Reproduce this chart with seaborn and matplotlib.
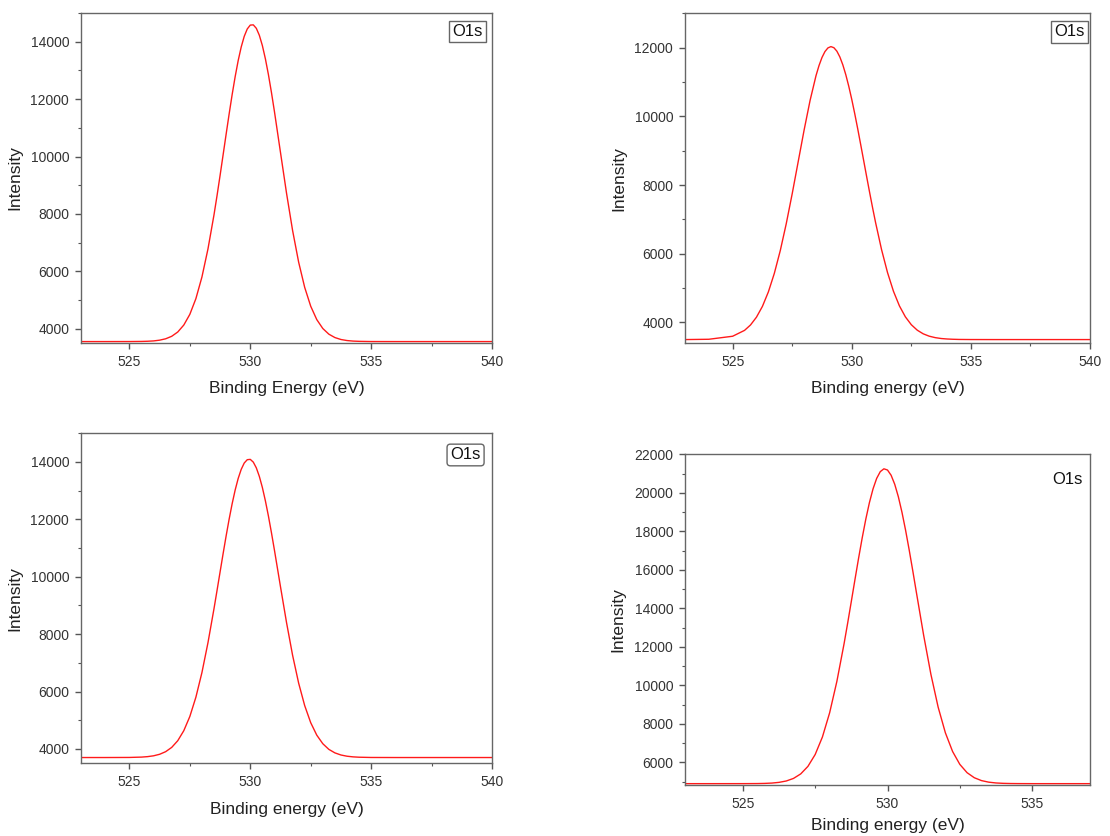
import numpy as np
import pandas as pd
import matplotlib
matplotlib.use("Agg")
import matplotlib.pyplot as plt
import seaborn as sns
from matplotlib.ticker import MultipleLocator

# Năng lượng liên kết (eV) - lưới chung cho cả 4 phổ
energy = [523, 524, 525, 525.5, 525.75, 526, 526.25, 526.5, 526.75, 527, 527.25,
          527.5, 527.75, 528, 528.25, 528.5, 528.625, 528.75, 528.875, 529,
          529.125, 529.25, 529.375, 529.5, 529.625, 529.75, 529.875, 530,
          530.125, 530.25, 530.375, 530.5, 530.625, 530.75, 530.875, 531,
          531.25, 531.5, 531.75, 532, 532.25, 532.5, 532.75, 533, 533.25,
          533.5, 533.75, 534, 534.25, 534.5, 535, 536, 537, 538, 539, 540]

# Cường độ (O1s)
int_a = [3550, 3550, 3551, 3555, 3561, 3573, 3599, 3647, 3734, 3883, 4126,
         4499, 5045, 5799, 6778, 7971, 8636, 9334, 10051, 10771,
         11479, 12158, 12784, 13344, 13817, 14188, 14445, 14580,
         14588, 14468, 14224, 13866, 13404, 12855, 12235, 11563,
         10137, 8718, 7422, 6319, 5440, 4781, 4316, 4005, 3808,
         3690, 3622, 3586, 3567, 3558, 3551, 3550, 3550, 3550, 3550, 3550]
int_b = [3500, 3509, 3597, 3768, 3925, 4152, 4466, 4888, 5428, 6092, 6873,
         7746, 8674, 9601, 10461, 11186, 11477, 11713, 11886, 11992,
         12030, 11998, 11897, 11729, 11499, 11211, 10873, 10493,
         10077, 9637, 9177, 8711, 8244, 7783, 7335, 6906,
         6121, 5453, 4907, 4481, 4162, 3932, 3773, 3667, 3599,
         3557, 3531, 3517, 3509, 3504, 3501, 3500, 3500, 3500, 3500, 3500]
int_c = [3700, 3700, 3703, 3715, 3731, 3760, 3813, 3904, 4053, 4286, 4635,
         5130, 5801, 6660, 7702, 8891, 9522, 10162, 10799, 11418,
         12005, 12545, 13024, 13427, 13743, 13964, 14080, 14091,
         13995, 13795, 13497, 13111, 12646, 12118, 11538, 10924,
         9650, 8401, 7264, 6294, 5511, 4913, 4480, 4181, 3984,
         3862, 3788, 3746, 3723, 3711, 3702, 3700, 3700, 3700, 3700, 3700]
int_d = [4900, 4900, 4901, 4905, 4913, 4930, 4967, 5038, 5171, 5406, 5798,
         6413, 7321, 8579, 10209, 12174, 13252, 14367, 15493, 16600,
         17656, 18631, 19491, 20204, 20747, 21098, 21246, 21183,
         20911, 20442, 19795, 18990, 18058, 17030, 15940, 14817,
         12599, 10577, 8875, 7542, 6569, 5901, 5470, 5208, 5058,
         4977, 4936, 4916, 4907, 4903, 4900, 4900, 4900, 4900, 4900, 4900]

xlabels = ['Binding Energy (eV)', 'Binding energy (eV)', 'Binding energy (eV)', 'Binding energy (eV)']

sns.set_theme(style="white")
plt.rcParams['font.family'] = ['Liberation Sans', 'DejaVu Sans']

fig = plt.figure(figsize=(11.1, 8.36), dpi=100)

# vị trí các ô (đơn vị tỷ lệ hình)
positions = [[0.073, 0.5897, 0.3703, 0.3947],
             [0.6171, 0.5897, 0.3649, 0.3944],
             [0.073, 0.0870, 0.3703, 0.3947],
             [0.6171, 0.0610, 0.3649, 0.3956]]
xlims = [(523, 540), (523, 540), (523, 540), (523, 537)]
ylims = [(3500, 15000), (3400, 13000), (3500, 15000), (4830, 22000)]
series = [int_a, int_b, int_c, int_d]
label_xy = [(0.977, 0.967), (0.986, 0.967), (0.9725, 0.957), (0.982, 0.946)]
xpads = [9, 9, 9, 5.5]

for i in range(4):
    ax = fig.add_axes(positions[i])
    df = pd.DataFrame({'energy': energy, 'intensity': series[i]})
    sns.lineplot(data=df, x='energy', y='intensity', color='#ff1a1a', linewidth=1.0, ax=ax)
    ax.set_xlim(xlims[i])
    ax.set_ylim(ylims[i])
    ax.xaxis.set_major_locator(MultipleLocator(5))
    ax.xaxis.set_minor_locator(MultipleLocator(2.5))
    ax.yaxis.set_major_locator(MultipleLocator(2000))
    ax.yaxis.set_minor_locator(MultipleLocator(1000))
    ax.tick_params(which='major', direction='out', length=4, width=1, color='#555555',
                   labelsize=10, labelcolor='#333333', pad=4.5,
                   bottom=True, left=True)
    ax.tick_params(which='minor', direction='out', length=2.5, width=0.8, color='#555555',
                   bottom=True, left=True)
    for s in ax.spines.values():
        s.set_color('#666666')
        s.set_linewidth(1.0)
    ax.set_xlabel(xlabels[i], fontsize=12.5, color='#222222', labelpad=xpads[i])
    ax.set_ylabel('Intensity', fontsize=12.5, color='#222222', labelpad=6)

    tx, ty = label_xy[i]
    if i < 3:
        ax.text(tx, ty, 'O1s', transform=ax.transAxes, ha='right', va='top',
                fontsize=12, color='#111111',
                bbox=dict(boxstyle='round,pad=0.2' if i == 2 else 'square,pad=0.2',
                          facecolor='white', edgecolor='#666666', linewidth=1.0))
    else:
        ax.text(tx, ty, 'O1s', transform=ax.transAxes, ha='right', va='top',
                fontsize=12, color='#111111')

fig.savefig('out.png', dpi=100)
